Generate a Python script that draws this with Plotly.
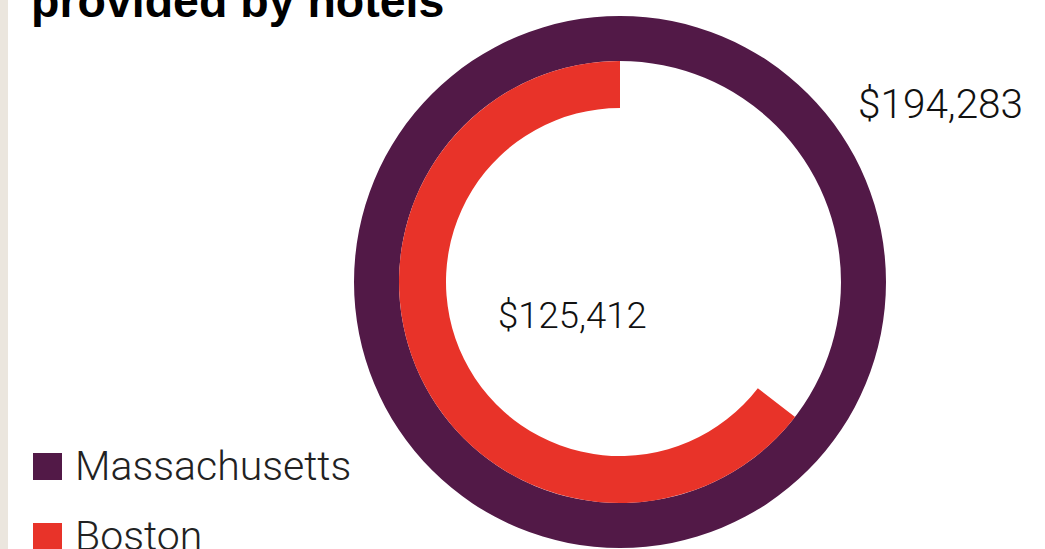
import plotly.graph_objects as go

# ---- data ----
categories = ["Massachusetts", "Boston"]
values = [194283, 125412]
value_labels = ["$194,283", "$125,412"]
title_line = "provided by hotels"
colors = ["#521947", "#e83329"]

W, H = 1045, 549
CX, CY = 620, 282          # ring centre in px (from top)
R_OUT, R_MID, R_IN = 266, 221, 174


def dom(r):
    cy_b = H - CY
    return dict(x=[(CX - r) / W, (CX + r) / W], y=[(cy_b - r) / H, (cy_b + r) / H])


fig = go.Figure()

# outer ring: Massachusetts (full circle)
fig.add_trace(go.Pie(
    values=[values[0]], labels=[categories[0]],
    marker=dict(colors=[colors[0]], line=dict(width=0)),
    hole=R_MID / R_OUT, domain=dom(R_OUT), sort=False,
    direction="clockwise", rotation=0,
    textinfo="none", hoverinfo="label+value", showlegend=False,
))

# inner ring: Boston as share of Massachusetts (arc runs counter-clockwise from 12 o'clock)
fig.add_trace(go.Pie(
    values=[values[0] - values[1], values[1]], labels=["rest", categories[1]],
    marker=dict(colors=["rgba(0,0,0,0)", colors[1]], line=dict(width=0)),
    hole=R_IN / R_MID, domain=dom(R_MID), sort=False,
    direction="clockwise", rotation=0,
    textinfo="none", hoverinfo="label+value", showlegend=False,
))

num_font = dict(family="Roboto, Liberation Sans, sans-serif", color="#111", weight=300)

annotations = [
    dict(text=f"<b>{title_line}</b>", x=29 / W, y=1 - 1 / H, xref="paper", yref="paper",
         xanchor="left", yanchor="middle", showarrow=False,
         font=dict(family="Liberation Sans, Arial, sans-serif", size=46.5, color="#000")),
    dict(text=value_labels[0], x=940 / W, y=1 - 104 / H, xref="paper", yref="paper",
         xanchor="center", yanchor="middle", showarrow=False,
         font=dict(size=40.5, **num_font)),
    dict(text=value_labels[1], x=572 / W, y=1 - 315 / H, xref="paper", yref="paper",
         xanchor="center", yanchor="middle", showarrow=False,
         font=dict(size=36.5, **num_font)),
]

shapes = [
    dict(type="rect", xref="paper", yref="paper", x0=0, x1=8 / W, y0=0, y1=1,
         fillcolor="#ebe6de", line=dict(width=0), layer="below"),
]

leg_y = [466, 536]
for cat, col, ly in zip(categories, colors, leg_y):
    shapes.append(dict(type="rect", xref="paper", yref="paper",
                       x0=33 / W, x1=62 / W, y0=1 - (ly + 14) / H, y1=1 - (ly - 13) / H,
                       fillcolor=col, line=dict(width=0)))
    annotations.append(dict(text=cat, x=73 / W, y=1 - ly / H, xref="paper", yref="paper",
                            xanchor="left", yanchor="middle", showarrow=False,
                            font=dict(family="Roboto, Liberation Sans, sans-serif",
                                      size=41, color="#222", weight=300)))

fig.update_layout(
    width=W, height=H, margin=dict(l=0, r=0, t=0, b=0),
    paper_bgcolor="white", plot_bgcolor="white",
    annotations=annotations, shapes=shapes, showlegend=False,
)

fig.write_html("out.html", config={"displayModeBar": False},
               post_script="document.body.style.margin='0';document.body.style.overflow='hidden';")
